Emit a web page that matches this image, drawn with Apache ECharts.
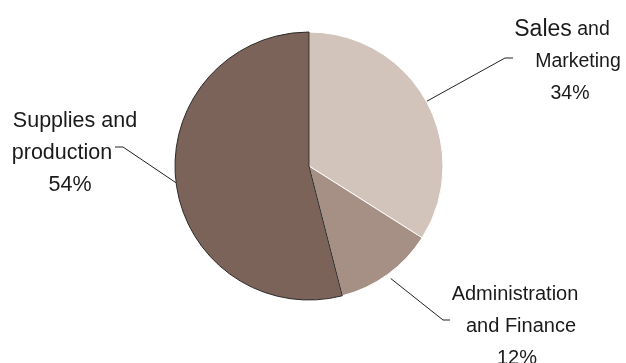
<!DOCTYPE html>
<html>
<head>
<meta charset="utf-8">
<script src="https://cdn.jsdelivr.net/npm/echarts@6/dist/echarts.min.js"></script>
<style>
html,body{margin:0;padding:0;background:#fff;}
#chart{width:626px;height:363px;}
</style>
</head>
<body>
<div id="chart"></div>
<script>
// Data
const categories = ['Sales and Marketing', 'Administration and Finance', 'Supplies and production'];
const values = [34, 12, 54];
const labelLines = [
  ['Sales and', 'Marketing'],
  ['Administration', 'and Finance'],
  ['Supplies and', 'production']
];

const colors = ['#d2c4bb', '#a69085', '#7b6359'];
const borders = [['#ffffff', 1], ['#ffffff', 1], ['#2b2b2b', 1]];

const CX = 309, CY = 166, R = 134;

// label block placement (center x, top y), per-line horizontal shift, leader line offsets
const labelCfg = [
  { x: 570, y: 14, shifts: [-8, 8, 0], size: 19.5, first: 23, gap: 0, endDx: -57, elbowDx: -65, lineY: 44 },
  { x: 517, y: 278, shifts: [-2, 4, 0], size: 20, gap: 5, endDx: -67, elbowDx: -74, lineY: 42 },
  { x: 70, y: 105, shifts: [5, -8, 0], size: 21.5, gap: 0, endDx: 45, elbowDx: 53, lineY: 42 }
];

const total = values.reduce((a, b) => a + b, 0);
function midPoint(i, extra) {
  let cum = 0;
  for (let k = 0; k < i; k++) cum += values[k];
  const frac = (cum + values[i] / 2) / total;
  const ang = Math.PI / 2 - frac * 2 * Math.PI;
  const r = R + extra;
  return [CX + r * Math.cos(ang), CY - r * Math.sin(ang)];
}

const FONT = "'Liberation Sans', Arial, sans-serif";

function pad(s) {
  return [0, s < 0 ? -2 * s : 0, 0, s > 0 ? 2 * s : 0];
}

const rich = {};
labelCfg.forEach((c, i) => {
  c.shifts.forEach((s, j) => {
    rich['l' + i + '_' + j] = {
      fontFamily: FONT, fontSize: c.size, lineHeight: 32, color: '#1a1a1a',
      align: 'center', padding: pad(s)
    };
  });
});
rich.big = { fontFamily: FONT, fontSize: labelCfg[0].first, lineHeight: 32, color: '#1a1a1a', align: 'center' };

const data = categories.map((name, i) => ({
  name: name,
  value: values[i],
  itemStyle: { color: colors[i], borderColor: borders[i][0], borderWidth: borders[i][1] }
}));

const chart = echarts.init(document.getElementById('chart'), null, { renderer: 'canvas' });
chart.setOption({
  animation: false,
  backgroundColor: '#ffffff',
  series: [{
    type: 'pie',
    center: [CX, CY],
    radius: R,
    startAngle: 90,
    clockwise: true,
    data: data,
    silent: true,
    label: {
      show: true,
      position: 'outside',
      overflow: 'none',
      formatter: function (p) {
        const i = p.dataIndex;
        const ls = labelLines[i];
        const pct = values[i] + '%';
        let line1;
        if (i === 0) {
          const parts = ls[0].split(' ');
          line1 = '{big|' + parts[0] + '}{l0_0| ' + parts.slice(1).join(' ') + '}';
        } else {
          line1 = '{l' + i + '_0|' + ls[0] + '}';
        }
        return line1 + '\n{l' + i + '_1|' + ls[1] + '}\n{l' + i + '_2|' + pct + '}';
      },
      rich: rich
    },
    labelLine: {
      show: true,
      length: 10,
      length2: 10,
      lineStyle: { color: '#222222', width: 1 }
    },
    labelLayout: function (params) {
      const i = params.dataIndex;
      const c = labelCfg[i];
      const start = midPoint(i, c.gap);
      const ly = c.y + c.lineY;
      return {
        x: c.x,
        y: c.y,
        align: 'center',
        verticalAlign: 'top',
        labelLinePoints: [start, [c.x + c.elbowDx, ly], [c.x + c.endDx, ly]]
      };
    }
  }]
});
</script>
</body>
</html>
